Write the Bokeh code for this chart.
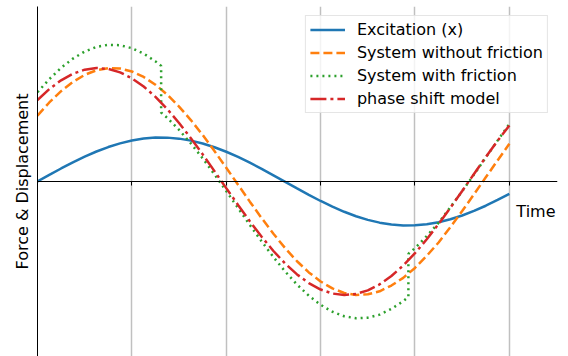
from bokeh.plotting import figure
from bokeh.models import FixedTicker, Label, Range1d, CustomJSTickFormatter
from bokeh.embed import file_html
from bokeh.resources import INLINE

# time samples
t = [0.0, 0.125, 0.25, 0.375, 0.5, 0.625, 0.75, 0.875, 1.0, 1.125, 1.25, 1.375,
     1.5, 1.625, 1.75, 1.875, 2.0, 2.125, 2.25, 2.375, 2.5, 2.625, 2.75, 2.875,
     3.0, 3.125, 3.25, 3.375, 3.5, 3.625, 3.75, 3.875, 4.0, 4.125, 4.25, 4.375,
     4.5, 4.625, 4.75, 4.875, 5.0]

excitation = [0.0, 0.149, 0.296, 0.435, 0.565, 0.682, 0.783, 0.867, 0.932, 0.976,
              0.998, 0.997, 0.974, 0.929, 0.863, 0.778, 0.676, 0.558, 0.427, 0.288,
              0.141, -0.008, -0.158, -0.304, -0.443, -0.572, -0.688, -0.789, -0.872,
              -0.935, -0.978, -0.998, -0.996, -0.972, -0.926, -0.859, -0.773, -0.669,
              -0.551, -0.420, -0.279]

no_friction = [1.499, 1.796, 2.053, 2.263, 2.423, 2.528, 2.577, 2.567, 2.500, 2.376,
               2.200, 1.974, 1.703, 1.396, 1.057, 0.692, 0.313, -0.073, -0.458,
               -0.832, -1.188, -1.517, -1.813, -2.066, -2.272, -2.430, -2.533,
               -2.578, -2.564, -2.495, -2.365, -2.190, -1.964, -1.688, -1.387,
               -1.036, -0.671, -0.292, 0.095, 0.479, 0.857]

phase_shift = [1.851, 2.099, 2.299, 2.448, 2.542, 2.579, 2.559, 2.480, 2.346, 2.159,
               1.924, 1.646, 1.330, 0.985, 0.617, 0.236, -0.151, -0.534, -0.905,
               -1.256, -1.579, -1.866, -2.111, -2.309, -2.455, -2.546, -2.580,
               -2.555, -2.474, -2.337, -2.147, -1.910, -1.629, -1.311, -0.965,
               -0.596, -0.214, 0.172, 0.555, 0.925, 1.275]

t_fric = [0.0, 0.125, 0.25, 0.375, 0.5, 0.625, 0.75, 0.875, 1.0, 1.125, 1.25,
          1.31, 1.31, 1.375, 1.5, 1.625, 1.75, 1.875, 2.0, 2.125, 2.25, 2.375,
          2.5, 2.625, 2.75, 2.875, 3.0, 3.125, 3.25, 3.375, 3.5, 3.625, 3.75,
          3.875, 3.93, 3.93, 4.0, 4.125, 4.25, 4.375, 4.5, 4.625, 4.75, 4.875, 5.0]
with_friction = [2.029, 2.326, 2.583, 2.793, 2.953, 3.058, 3.107, 3.097, 3.030,
                 2.906, 2.730, 2.628, 1.568, 1.444, 1.173, 0.866, 0.527, 0.162,
                 -0.217, -0.603, -0.988, -1.362, -1.718, -2.047, -2.343, -2.596,
                 -2.802, -2.960, -3.063, -3.108, -3.094, -3.025, -2.895, -2.720,
                 -2.625, -1.645, -1.514, -1.238, -0.937, -0.586, -0.221, 0.158,
                 0.545, 0.929, 1.307]

x_ticks = [0, 1, 2, 3, 4, 5]
grid_ticks = [1, 2, 3, 4, 5]

FONT = "DejaVu Sans"

p = figure(width=568, height=356, output_backend="svg", toolbar_location=None,
           x_range=Range1d(0, 5.51), y_range=Range1d(-3.977, 3.977),
           min_border_left=37, min_border_right=11, min_border_top=6,
           min_border_bottom=0)
p.outline_line_color = None
p.background_fill_color = "white"

# x axis through zero
p.xaxis.fixed_location = 0
p.xaxis.ticker = FixedTicker(ticks=x_ticks)
p.xaxis.formatter = CustomJSTickFormatter(code="return ''")
p.xaxis.major_label_standoff = 0
p.xaxis.major_tick_in = 0
p.xaxis.major_tick_out = 4
p.xaxis.minor_tick_line_color = None
p.xaxis.axis_line_color = "black"
p.xaxis.major_tick_line_color = "black"

p.yaxis.ticker = FixedTicker(ticks=[])
p.yaxis.major_tick_line_color = None
p.yaxis.minor_tick_line_color = None
p.yaxis.major_label_standoff = 0
p.yaxis.axis_line_color = "black"
p.yaxis.axis_label = "Force & Displacement"
p.yaxis.axis_label_text_font = FONT
p.yaxis.axis_label_text_font_style = "normal"
p.yaxis.axis_label_text_font_size = "16px"
p.yaxis.axis_label_text_color = "black"
p.yaxis.axis_label_standoff = 6

p.xgrid.ticker = FixedTicker(ticks=grid_ticks)
p.xgrid.grid_line_color = "#c0c0c0"
p.xgrid.grid_line_width = 1.5
p.ygrid.visible = False

lw = 2.5
p.line(t, excitation, color="#1f77b4", line_width=lw, legend_label="Excitation (x)")
p.line(t, no_friction, color="#ff7f0e", line_width=lw, line_dash="9 4",
       legend_label="System without friction")
p.line(t_fric, with_friction, color="#2ca02c", line_width=lw, line_dash="2 4",
       legend_label="System with friction")
p.line(t, phase_shift, color="#d62728", line_width=lw, line_dash="16 4 3 4",
       legend_label="phase shift model")

p.add_layout(Label(x=5.51, y=0, text="Time", text_align="right",
                   text_baseline="alphabetic", x_offset=-2, y_offset=-30,
                   text_font=FONT, text_font_size="16px", text_color="black"))

lg = p.legend[0]
lg.location = "top_right"
lg.margin = 9
lg.padding = 4
lg.spacing = 4
lg.label_height = 19
lg.glyph_height = 19
lg.glyph_width = 35
lg.label_standoff = 12
lg.label_text_font = FONT
lg.label_text_font_size = "16px"
lg.label_text_color = "black"
lg.border_line_color = "#cccccc"
lg.border_line_width = 1
lg.background_fill_color = "white"
lg.background_fill_alpha = 0.8

open("out.html", "w").write(file_html(p, INLINE))
